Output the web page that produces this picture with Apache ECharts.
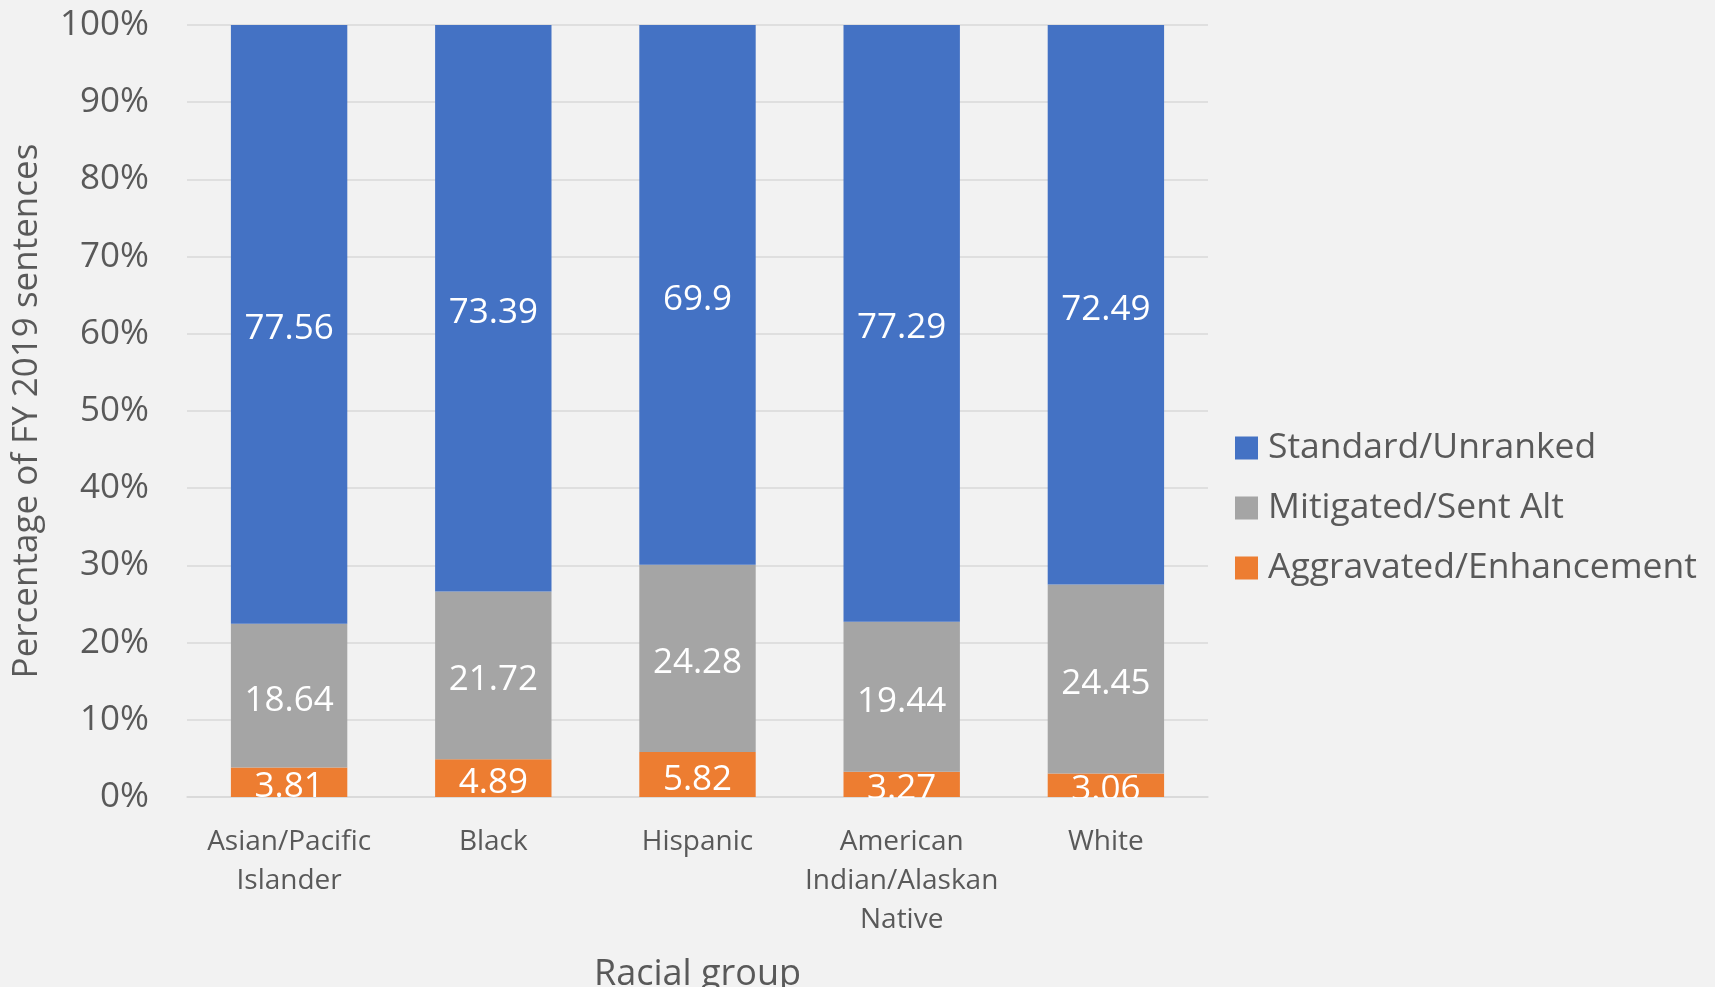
<!DOCTYPE html>
<html>
<head>
<meta charset="utf-8">
<script src="https://cdn.jsdelivr.net/npm/echarts@6/dist/echarts.min.js"></script>
<style>
  html, body { margin: 0; padding: 0; background: #ffffff; }
  #chart { width: 1715px; height: 987px; background: #f2f2f2; }
</style>
</head>
<body>
<div id="chart"></div>
<script>
const categories = ['Asian/Pacific\nIslander', 'Black', 'Hispanic', 'American\nIndian/Alaskan\nNative', 'White'];
const standardUnranked = [77.56, 73.39, 69.9, 77.29, 72.49];
const mitigatedSentAlt = [18.64, 21.72, 24.28, 19.44, 24.45];
const aggravatedEnhancement = [3.81, 4.89, 5.82, 3.27, 3.06];
const yTicks = { min: 0, max: 100, interval: 10 };

const FONT = '"Open Sans", "Noto Sans", sans-serif';
const TXT = '#595959';

const labelStyle = {
  show: true,
  position: 'inside',
  offset: [0, 5],
  color: '#ffffff',
  fontFamily: FONT,
  fontSize: 35
};

const chart = echarts.init(document.getElementById('chart'), null, { renderer: 'canvas' });
chart.setOption({
  backgroundColor: '#f2f2f2',
  animation: false,
  grid: { left: 187, top: 25, width: 1021, height: 772, containLabel: false, outerBoundsMode: 'none' },
  legend: {
    orient: 'vertical',
    left: 1230,
    top: 423,
    itemWidth: 23,
    itemHeight: 23,
    itemGap: 20,
    icon: 'rect',
    data: ['Standard/Unranked', 'Mitigated/Sent Alt', 'Aggravated/Enhancement'],
    textStyle: { color: TXT, fontFamily: FONT, fontSize: 35.5, lineHeight: 40, padding: [0, 0, 0, 5] }
  },
  // plot-area clip strip: hides data-label overflow below the 0% line, as in the source
  graphic: [{
    type: 'rect',
    left: 187, top: 798,
    shape: { width: 1021, height: 15 },
    style: { fill: '#f2f2f2' },
    z: 100, silent: true
  }],
  xAxis: {
    type: 'category',
    data: categories,
    axisLine: { lineStyle: { color: '#d9d9d9', width: 1.5 } },
    axisTick: { show: false },
    axisLabel: { interval: 0, color: TXT, fontFamily: FONT, fontSize: 28, lineHeight: 39, margin: 26 },
    name: 'Racial group',
    nameLocation: 'middle',
    nameGap: 160,
    nameTextStyle: { color: TXT, fontFamily: FONT, fontSize: 36 }
  },
  yAxis: {
    type: 'value',
    min: yTicks.min,
    max: yTicks.max,
    interval: yTicks.interval,
    axisLine: { show: false },
    axisTick: { show: false },
    splitLine: { lineStyle: { color: '#d9d9d9', width: 1.5 } },
    axisLabel: { color: TXT, fontFamily: FONT, fontSize: 35, margin: 38, padding: [5, 0, 0, 0], formatter: '{value}%' },
    name: 'Percentage of FY 2019 sentences',
    nameLocation: 'middle',
    nameGap: 142,
    nameTextStyle: { color: TXT, fontFamily: FONT, fontSize: 35 }
  },
  series: [
    {
      name: 'Aggravated/Enhancement', type: 'bar', stack: 'total', barWidth: '57%',
      data: aggravatedEnhancement, itemStyle: { color: '#ED7D31' }, label: labelStyle
    },
    {
      name: 'Mitigated/Sent Alt', type: 'bar', stack: 'total', barWidth: '57%',
      data: mitigatedSentAlt, itemStyle: { color: '#A5A5A5' }, label: labelStyle
    },
    {
      name: 'Standard/Unranked', type: 'bar', stack: 'total', barWidth: '57%',
      data: standardUnranked, itemStyle: { color: '#4472C4' }, label: labelStyle
    }
  ]
});
</script>
</body>
</html>
